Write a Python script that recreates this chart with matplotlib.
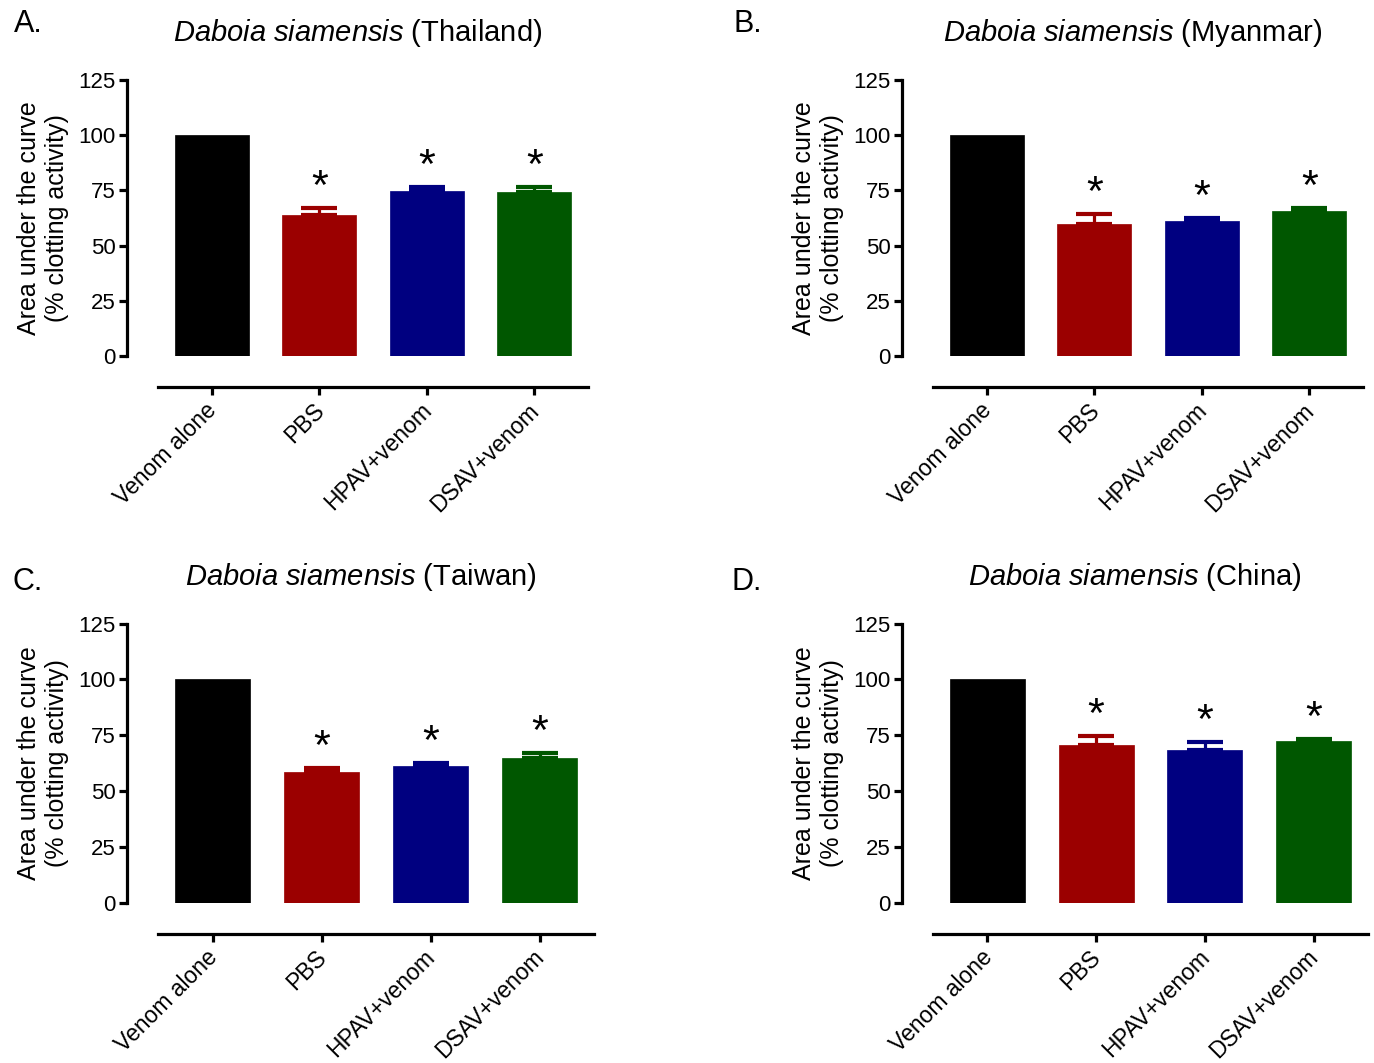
import matplotlib
matplotlib.use("Agg")
import matplotlib.pyplot as plt
import numpy as np

plt.rcParams['font.family'] = ['Liberation Sans', 'DejaVu Sans']
plt.rcParams['mathtext.fontset'] = 'custom'
plt.rcParams['mathtext.rm'] = 'Liberation Sans'
plt.rcParams['mathtext.it'] = 'Liberation Sans:italic'

categories = ["Venom alone", "PBS", "HPAV+venom", "DSAV+venom"]
colors = ["#000000", "#9B0000", "#000080", "#005700"]

titles = ["Thailand", "Myanmar", "Taiwan", "China"]
letters = ["A.", "B.", "C.", "D."]

thailand_mean = [100, 63.7, 74.8, 74.2]
thailand_err = [0, 3.4, 1.6, 2.4]
myanmar_mean = [100, 59.7, 61.3, 65.6]
myanmar_err = [0, 4.6, 1.2, 1.3]
taiwan_mean = [100, 58.5, 61.4, 64.8]
taiwan_err = [0, 1.8, 1.2, 2.4]
china_mean = [100, 70.6, 68.5, 72.4]
china_err = [0, 4.2, 3.4, 1.0]

means = [thailand_mean, myanmar_mean, taiwan_mean, china_mean]
errs = [thailand_err, myanmar_err, taiwan_err, china_err]
signif = [False, True, True, True]

yticks = [0, 25, 50, 75, 100, 125]

W, H = 1374, 1063
fig = plt.figure(figsize=(W / 100, H / 100), dpi=100)

# axes rectangles in pixels: left, right, top(125), bottom(0)
rects = [
    (158, 588, 80, 356),
    (933, 1363, 80, 356),
    (158, 594, 623.6, 902.7),
    (933, 1368, 623.6, 902.7),
]
title_y = [33, 33, 577, 577]
letter_pos = [(14, 24), (733, 24), (12, 582), (732, 582)]

outward = 31 * 72 / 100
lw = 2.3

for i in range(4):
    l, r, t, b = rects[i]
    ax = fig.add_axes([l / W, 1 - b / H, (r - l) / W, (b - t) / H])
    for s in ['top', 'right']:
        ax.spines[s].set_visible(False)
    ax.spines['left'].set_position(('outward', outward))
    ax.spines['bottom'].set_position(('outward', outward))
    ax.spines['left'].set_linewidth(lw)
    ax.spines['bottom'].set_linewidth(lw)

    x = np.arange(len(categories))
    m = means[i]
    e = errs[i]
    ax.bar(x, m, width=0.69, color=colors, edgecolor=colors, linewidth=0.5, zorder=2)
    for j in range(len(categories)):
        if e[j] > 0:
            ax.errorbar(x[j], m[j], yerr=[[0], [e[j]]], fmt='none', ecolor=colors[j],
                        elinewidth=2.3, capsize=13, capthick=3.0, zorder=3)
        if signif[j]:
            ax.annotate("*", xy=(x[j], m[j] + e[j]), xytext=(0, 0), textcoords='offset points',
                        ha='center', va='bottom', fontsize=31)
    ax.set_xlim(-0.5, 3.5)
    ax.set_ylim(0, 125)
    ax.set_yticks(yticks)
    ax.set_xticks(x)
    ax.set_xticklabels([])
    for j, cat in enumerate(categories):
        ax.annotate(cat, xy=(x[j], 0), xycoords=('data', 'axes fraction'),
                    xytext=(-5, -31), textcoords='offset points',
                    rotation=45, ha='right', va='top', rotation_mode='anchor',
                    fontsize=16.5, annotation_clip=False)
    ax.tick_params(axis='y', labelsize=16, length=6, width=lw, pad=2)
    ax.tick_params(axis='x', length=6, width=lw)
    ax.set_ylabel("Area under the curve\n(% clotting activity)", fontsize=18, labelpad=7,
                  linespacing=1.2)
    spine_x = l - 31
    cx = (spine_x + r) / 2
    fig.text(cx / W, 1 - title_y[i] / H,
             r"$\it{Daboia\ siamensis}$" + " (" + titles[i] + ")",
             ha='center', va='center', fontsize=21)
    lx, ly = letter_pos[i]
    fig.text(lx / W, 1 - ly / H, letters[i], ha='left', va='center', fontsize=22)

fig.savefig("out.png", dpi=100)
